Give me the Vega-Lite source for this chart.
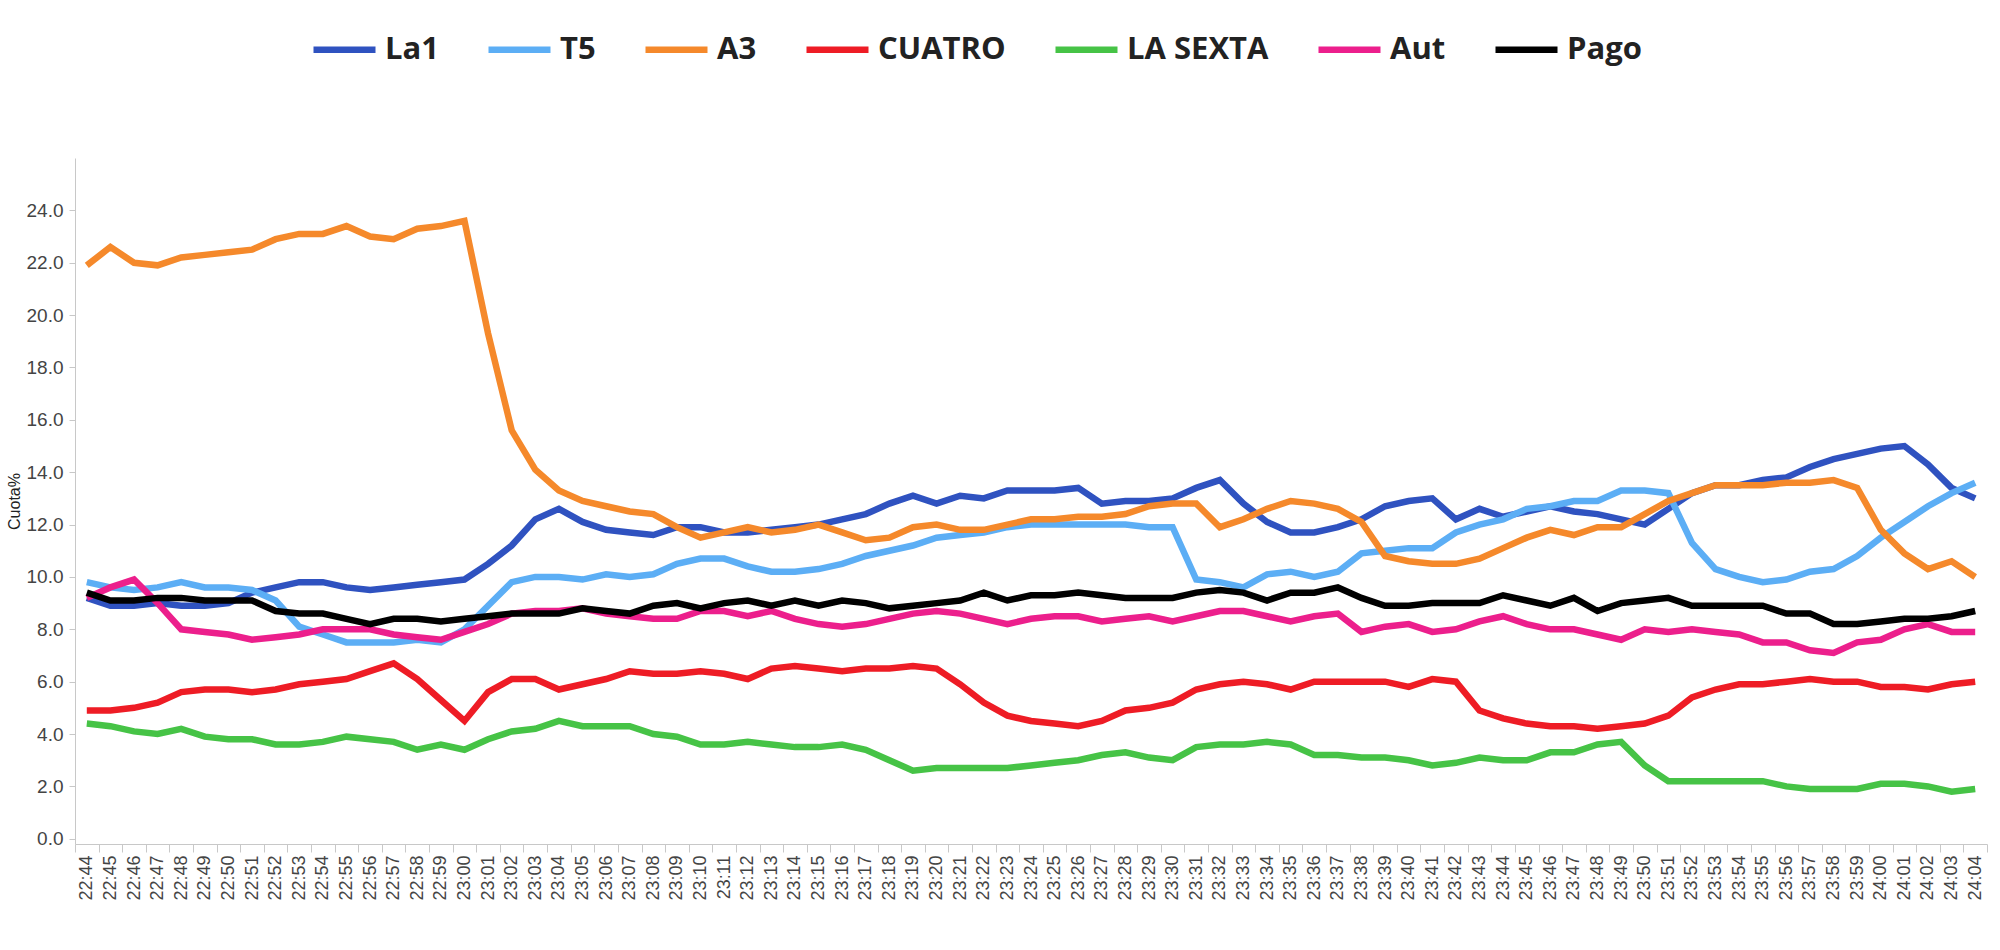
{
"$schema": "https://vega.github.io/schema/vega-lite/v6.json",
"width": 1912,
"height": 686,
"autosize": {"type": "none"},
"padding": {"left": 75, "top": 158, "right": 13, "bottom": 106},
"background": "white",
"config": {"view": {"stroke": null}, "font": "Liberation Sans"},
"data": {"values": [
{"t":"22:44","s":"La1","v":9.2},{"t":"22:45","s":"La1","v":8.9},{"t":"22:46","s":"La1","v":8.9},{"t":"22:47","s":"La1","v":9.0},{"t":"22:48","s":"La1","v":8.9},{"t":"22:49","s":"La1","v":8.9},{"t":"22:50","s":"La1","v":9.0},{"t":"22:51","s":"La1","v":9.4},{"t":"22:52","s":"La1","v":9.6},{"t":"22:53","s":"La1","v":9.8},{"t":"22:54","s":"La1","v":9.8},{"t":"22:55","s":"La1","v":9.6},{"t":"22:56","s":"La1","v":9.5},{"t":"22:57","s":"La1","v":9.6},{"t":"22:58","s":"La1","v":9.7},{"t":"22:59","s":"La1","v":9.8},
{"t":"23:00","s":"La1","v":9.9},{"t":"23:01","s":"La1","v":10.5},{"t":"23:02","s":"La1","v":11.2},{"t":"23:03","s":"La1","v":12.2},{"t":"23:04","s":"La1","v":12.6},{"t":"23:05","s":"La1","v":12.1},{"t":"23:06","s":"La1","v":11.8},{"t":"23:07","s":"La1","v":11.7},{"t":"23:08","s":"La1","v":11.6},{"t":"23:09","s":"La1","v":11.9},{"t":"23:10","s":"La1","v":11.9},
{"t":"23:11","s":"La1","v":11.7},{"t":"23:12","s":"La1","v":11.7},{"t":"23:13","s":"La1","v":11.8},{"t":"23:14","s":"La1","v":11.9},{"t":"23:15","s":"La1","v":12.0},{"t":"23:16","s":"La1","v":12.2},{"t":"23:17","s":"La1","v":12.4},{"t":"23:18","s":"La1","v":12.8},{"t":"23:19","s":"La1","v":13.1},{"t":"23:20","s":"La1","v":12.8},{"t":"23:21","s":"La1","v":13.1},{"t":"23:22","s":"La1","v":13.0},{"t":"23:23","s":"La1","v":13.3},{"t":"23:24","s":"La1","v":13.3},
{"t":"23:25","s":"La1","v":13.3},{"t":"23:26","s":"La1","v":13.4},{"t":"23:27","s":"La1","v":12.8},{"t":"23:28","s":"La1","v":12.9},{"t":"23:29","s":"La1","v":12.9},{"t":"23:30","s":"La1","v":13.0},{"t":"23:31","s":"La1","v":13.4},{"t":"23:32","s":"La1","v":13.7},{"t":"23:33","s":"La1","v":12.8},{"t":"23:34","s":"La1","v":12.1},{"t":"23:35","s":"La1","v":11.7},{"t":"23:36","s":"La1","v":11.7},{"t":"23:37","s":"La1","v":11.9},{"t":"23:38","s":"La1","v":12.2},
{"t":"23:39","s":"La1","v":12.7},{"t":"23:40","s":"La1","v":12.9},{"t":"23:41","s":"La1","v":13.0},{"t":"23:42","s":"La1","v":12.2},{"t":"23:43","s":"La1","v":12.6},{"t":"23:44","s":"La1","v":12.3},{"t":"23:45","s":"La1","v":12.5},{"t":"23:46","s":"La1","v":12.7},{"t":"23:47","s":"La1","v":12.5},{"t":"23:48","s":"La1","v":12.4},{"t":"23:49","s":"La1","v":12.2},{"t":"23:50","s":"La1","v":12.0},{"t":"23:51","s":"La1","v":12.6},
{"t":"23:52","s":"La1","v":13.2},{"t":"23:53","s":"La1","v":13.5},{"t":"23:54","s":"La1","v":13.5},{"t":"23:55","s":"La1","v":13.7},{"t":"23:56","s":"La1","v":13.8},{"t":"23:57","s":"La1","v":14.2},{"t":"23:58","s":"La1","v":14.5},{"t":"23:59","s":"La1","v":14.7},{"t":"24:00","s":"La1","v":14.9},{"t":"24:01","s":"La1","v":15.0},{"t":"24:02","s":"La1","v":14.3},{"t":"24:03","s":"La1","v":13.4},{"t":"24:04","s":"La1","v":13.0},

{"t":"22:44","s":"T5","v":9.8},{"t":"22:45","s":"T5","v":9.6},{"t":"22:46","s":"T5","v":9.5},{"t":"22:47","s":"T5","v":9.6},{"t":"22:48","s":"T5","v":9.8},{"t":"22:49","s":"T5","v":9.6},{"t":"22:50","s":"T5","v":9.6},{"t":"22:51","s":"T5","v":9.5},{"t":"22:52","s":"T5","v":9.1},{"t":"22:53","s":"T5","v":8.1},{"t":"22:54","s":"T5","v":7.8},{"t":"22:55","s":"T5","v":7.5},{"t":"22:56","s":"T5","v":7.5},{"t":"22:57","s":"T5","v":7.5},{"t":"22:58","s":"T5","v":7.6},{"t":"22:59","s":"T5","v":7.5},
{"t":"23:00","s":"T5","v":8.0},{"t":"23:01","s":"T5","v":8.9},{"t":"23:02","s":"T5","v":9.8},{"t":"23:03","s":"T5","v":10.0},{"t":"23:04","s":"T5","v":10.0},{"t":"23:05","s":"T5","v":9.9},{"t":"23:06","s":"T5","v":10.1},{"t":"23:07","s":"T5","v":10.0},{"t":"23:08","s":"T5","v":10.1},{"t":"23:09","s":"T5","v":10.5},{"t":"23:10","s":"T5","v":10.7},
{"t":"23:11","s":"T5","v":10.7},{"t":"23:12","s":"T5","v":10.4},{"t":"23:13","s":"T5","v":10.2},{"t":"23:14","s":"T5","v":10.2},{"t":"23:15","s":"T5","v":10.3},{"t":"23:16","s":"T5","v":10.5},{"t":"23:17","s":"T5","v":10.8},{"t":"23:18","s":"T5","v":11.0},{"t":"23:19","s":"T5","v":11.2},{"t":"23:20","s":"T5","v":11.5},{"t":"23:21","s":"T5","v":11.6},{"t":"23:22","s":"T5","v":11.7},{"t":"23:23","s":"T5","v":11.9},{"t":"23:24","s":"T5","v":12.0},
{"t":"23:25","s":"T5","v":12.0},{"t":"23:26","s":"T5","v":12.0},{"t":"23:27","s":"T5","v":12.0},{"t":"23:28","s":"T5","v":12.0},{"t":"23:29","s":"T5","v":11.9},{"t":"23:30","s":"T5","v":11.9},{"t":"23:31","s":"T5","v":9.9},{"t":"23:32","s":"T5","v":9.8},{"t":"23:33","s":"T5","v":9.6},{"t":"23:34","s":"T5","v":10.1},{"t":"23:35","s":"T5","v":10.2},{"t":"23:36","s":"T5","v":10.0},{"t":"23:37","s":"T5","v":10.2},{"t":"23:38","s":"T5","v":10.9},
{"t":"23:39","s":"T5","v":11.0},{"t":"23:40","s":"T5","v":11.1},{"t":"23:41","s":"T5","v":11.1},{"t":"23:42","s":"T5","v":11.7},{"t":"23:43","s":"T5","v":12.0},{"t":"23:44","s":"T5","v":12.2},{"t":"23:45","s":"T5","v":12.6},{"t":"23:46","s":"T5","v":12.7},{"t":"23:47","s":"T5","v":12.9},{"t":"23:48","s":"T5","v":12.9},{"t":"23:49","s":"T5","v":13.3},{"t":"23:50","s":"T5","v":13.3},{"t":"23:51","s":"T5","v":13.2},
{"t":"23:52","s":"T5","v":11.3},{"t":"23:53","s":"T5","v":10.3},{"t":"23:54","s":"T5","v":10.0},{"t":"23:55","s":"T5","v":9.8},{"t":"23:56","s":"T5","v":9.9},{"t":"23:57","s":"T5","v":10.2},{"t":"23:58","s":"T5","v":10.3},{"t":"23:59","s":"T5","v":10.8},{"t":"24:00","s":"T5","v":11.5},{"t":"24:01","s":"T5","v":12.1},{"t":"24:02","s":"T5","v":12.7},{"t":"24:03","s":"T5","v":13.2},{"t":"24:04","s":"T5","v":13.6},

{"t":"22:44","s":"A3","v":21.9},{"t":"22:45","s":"A3","v":22.6},{"t":"22:46","s":"A3","v":22.0},{"t":"22:47","s":"A3","v":21.9},{"t":"22:48","s":"A3","v":22.2},{"t":"22:49","s":"A3","v":22.3},{"t":"22:50","s":"A3","v":22.4},{"t":"22:51","s":"A3","v":22.5},{"t":"22:52","s":"A3","v":22.9},{"t":"22:53","s":"A3","v":23.1},{"t":"22:54","s":"A3","v":23.1},{"t":"22:55","s":"A3","v":23.4},{"t":"22:56","s":"A3","v":23.0},{"t":"22:57","s":"A3","v":22.9},{"t":"22:58","s":"A3","v":23.3},{"t":"22:59","s":"A3","v":23.4},
{"t":"23:00","s":"A3","v":23.6},{"t":"23:01","s":"A3","v":19.3},{"t":"23:02","s":"A3","v":15.6},{"t":"23:03","s":"A3","v":14.1},{"t":"23:04","s":"A3","v":13.3},{"t":"23:05","s":"A3","v":12.9},{"t":"23:06","s":"A3","v":12.7},{"t":"23:07","s":"A3","v":12.5},{"t":"23:08","s":"A3","v":12.4},{"t":"23:09","s":"A3","v":11.9},{"t":"23:10","s":"A3","v":11.5},
{"t":"23:11","s":"A3","v":11.7},{"t":"23:12","s":"A3","v":11.9},{"t":"23:13","s":"A3","v":11.7},{"t":"23:14","s":"A3","v":11.8},{"t":"23:15","s":"A3","v":12.0},{"t":"23:16","s":"A3","v":11.7},{"t":"23:17","s":"A3","v":11.4},{"t":"23:18","s":"A3","v":11.5},{"t":"23:19","s":"A3","v":11.9},{"t":"23:20","s":"A3","v":12.0},{"t":"23:21","s":"A3","v":11.8},{"t":"23:22","s":"A3","v":11.8},{"t":"23:23","s":"A3","v":12.0},{"t":"23:24","s":"A3","v":12.2},
{"t":"23:25","s":"A3","v":12.2},{"t":"23:26","s":"A3","v":12.3},{"t":"23:27","s":"A3","v":12.3},{"t":"23:28","s":"A3","v":12.4},{"t":"23:29","s":"A3","v":12.7},{"t":"23:30","s":"A3","v":12.8},{"t":"23:31","s":"A3","v":12.8},{"t":"23:32","s":"A3","v":11.9},{"t":"23:33","s":"A3","v":12.2},{"t":"23:34","s":"A3","v":12.6},{"t":"23:35","s":"A3","v":12.9},{"t":"23:36","s":"A3","v":12.8},{"t":"23:37","s":"A3","v":12.6},{"t":"23:38","s":"A3","v":12.1},
{"t":"23:39","s":"A3","v":10.8},{"t":"23:40","s":"A3","v":10.6},{"t":"23:41","s":"A3","v":10.5},{"t":"23:42","s":"A3","v":10.5},{"t":"23:43","s":"A3","v":10.7},{"t":"23:44","s":"A3","v":11.1},{"t":"23:45","s":"A3","v":11.5},{"t":"23:46","s":"A3","v":11.8},{"t":"23:47","s":"A3","v":11.6},{"t":"23:48","s":"A3","v":11.9},{"t":"23:49","s":"A3","v":11.9},{"t":"23:50","s":"A3","v":12.4},{"t":"23:51","s":"A3","v":12.9},
{"t":"23:52","s":"A3","v":13.2},{"t":"23:53","s":"A3","v":13.5},{"t":"23:54","s":"A3","v":13.5},{"t":"23:55","s":"A3","v":13.5},{"t":"23:56","s":"A3","v":13.6},{"t":"23:57","s":"A3","v":13.6},{"t":"23:58","s":"A3","v":13.7},{"t":"23:59","s":"A3","v":13.4},{"t":"24:00","s":"A3","v":11.8},{"t":"24:01","s":"A3","v":10.9},{"t":"24:02","s":"A3","v":10.3},{"t":"24:03","s":"A3","v":10.6},{"t":"24:04","s":"A3","v":10.0},

{"t":"22:44","s":"CUATRO","v":4.9},{"t":"22:45","s":"CUATRO","v":4.9},{"t":"22:46","s":"CUATRO","v":5.0},{"t":"22:47","s":"CUATRO","v":5.2},{"t":"22:48","s":"CUATRO","v":5.6},{"t":"22:49","s":"CUATRO","v":5.7},{"t":"22:50","s":"CUATRO","v":5.7},{"t":"22:51","s":"CUATRO","v":5.6},{"t":"22:52","s":"CUATRO","v":5.7},{"t":"22:53","s":"CUATRO","v":5.9},{"t":"22:54","s":"CUATRO","v":6.0},{"t":"22:55","s":"CUATRO","v":6.1},{"t":"22:56","s":"CUATRO","v":6.4},{"t":"22:57","s":"CUATRO","v":6.7},{"t":"22:58","s":"CUATRO","v":6.1},{"t":"22:59","s":"CUATRO","v":5.3},
{"t":"23:00","s":"CUATRO","v":4.5},{"t":"23:01","s":"CUATRO","v":5.6},{"t":"23:02","s":"CUATRO","v":6.1},{"t":"23:03","s":"CUATRO","v":6.1},{"t":"23:04","s":"CUATRO","v":5.7},{"t":"23:05","s":"CUATRO","v":5.9},{"t":"23:06","s":"CUATRO","v":6.1},{"t":"23:07","s":"CUATRO","v":6.4},{"t":"23:08","s":"CUATRO","v":6.3},{"t":"23:09","s":"CUATRO","v":6.3},{"t":"23:10","s":"CUATRO","v":6.4},
{"t":"23:11","s":"CUATRO","v":6.3},{"t":"23:12","s":"CUATRO","v":6.1},{"t":"23:13","s":"CUATRO","v":6.5},{"t":"23:14","s":"CUATRO","v":6.6},{"t":"23:15","s":"CUATRO","v":6.5},{"t":"23:16","s":"CUATRO","v":6.4},{"t":"23:17","s":"CUATRO","v":6.5},{"t":"23:18","s":"CUATRO","v":6.5},{"t":"23:19","s":"CUATRO","v":6.6},{"t":"23:20","s":"CUATRO","v":6.5},{"t":"23:21","s":"CUATRO","v":5.9},{"t":"23:22","s":"CUATRO","v":5.2},{"t":"23:23","s":"CUATRO","v":4.7},{"t":"23:24","s":"CUATRO","v":4.5},
{"t":"23:25","s":"CUATRO","v":4.4},{"t":"23:26","s":"CUATRO","v":4.3},{"t":"23:27","s":"CUATRO","v":4.5},{"t":"23:28","s":"CUATRO","v":4.9},{"t":"23:29","s":"CUATRO","v":5.0},{"t":"23:30","s":"CUATRO","v":5.2},{"t":"23:31","s":"CUATRO","v":5.7},{"t":"23:32","s":"CUATRO","v":5.9},{"t":"23:33","s":"CUATRO","v":6.0},{"t":"23:34","s":"CUATRO","v":5.9},{"t":"23:35","s":"CUATRO","v":5.7},{"t":"23:36","s":"CUATRO","v":6.0},{"t":"23:37","s":"CUATRO","v":6.0},{"t":"23:38","s":"CUATRO","v":6.0},
{"t":"23:39","s":"CUATRO","v":6.0},{"t":"23:40","s":"CUATRO","v":5.8},{"t":"23:41","s":"CUATRO","v":6.1},{"t":"23:42","s":"CUATRO","v":6.0},{"t":"23:43","s":"CUATRO","v":4.9},{"t":"23:44","s":"CUATRO","v":4.6},{"t":"23:45","s":"CUATRO","v":4.4},{"t":"23:46","s":"CUATRO","v":4.3},{"t":"23:47","s":"CUATRO","v":4.3},{"t":"23:48","s":"CUATRO","v":4.2},{"t":"23:49","s":"CUATRO","v":4.3},{"t":"23:50","s":"CUATRO","v":4.4},{"t":"23:51","s":"CUATRO","v":4.7},
{"t":"23:52","s":"CUATRO","v":5.4},{"t":"23:53","s":"CUATRO","v":5.7},{"t":"23:54","s":"CUATRO","v":5.9},{"t":"23:55","s":"CUATRO","v":5.9},{"t":"23:56","s":"CUATRO","v":6.0},{"t":"23:57","s":"CUATRO","v":6.1},{"t":"23:58","s":"CUATRO","v":6.0},{"t":"23:59","s":"CUATRO","v":6.0},{"t":"24:00","s":"CUATRO","v":5.8},{"t":"24:01","s":"CUATRO","v":5.8},{"t":"24:02","s":"CUATRO","v":5.7},{"t":"24:03","s":"CUATRO","v":5.9},{"t":"24:04","s":"CUATRO","v":6.0},

{"t":"22:44","s":"LA SEXTA","v":4.4},{"t":"22:45","s":"LA SEXTA","v":4.3},{"t":"22:46","s":"LA SEXTA","v":4.1},{"t":"22:47","s":"LA SEXTA","v":4.0},{"t":"22:48","s":"LA SEXTA","v":4.2},{"t":"22:49","s":"LA SEXTA","v":3.9},{"t":"22:50","s":"LA SEXTA","v":3.8},{"t":"22:51","s":"LA SEXTA","v":3.8},{"t":"22:52","s":"LA SEXTA","v":3.6},{"t":"22:53","s":"LA SEXTA","v":3.6},{"t":"22:54","s":"LA SEXTA","v":3.7},{"t":"22:55","s":"LA SEXTA","v":3.9},{"t":"22:56","s":"LA SEXTA","v":3.8},{"t":"22:57","s":"LA SEXTA","v":3.7},{"t":"22:58","s":"LA SEXTA","v":3.4},{"t":"22:59","s":"LA SEXTA","v":3.6},
{"t":"23:00","s":"LA SEXTA","v":3.4},{"t":"23:01","s":"LA SEXTA","v":3.8},{"t":"23:02","s":"LA SEXTA","v":4.1},{"t":"23:03","s":"LA SEXTA","v":4.2},{"t":"23:04","s":"LA SEXTA","v":4.5},{"t":"23:05","s":"LA SEXTA","v":4.3},{"t":"23:06","s":"LA SEXTA","v":4.3},{"t":"23:07","s":"LA SEXTA","v":4.3},{"t":"23:08","s":"LA SEXTA","v":4.0},{"t":"23:09","s":"LA SEXTA","v":3.9},{"t":"23:10","s":"LA SEXTA","v":3.6},
{"t":"23:11","s":"LA SEXTA","v":3.6},{"t":"23:12","s":"LA SEXTA","v":3.7},{"t":"23:13","s":"LA SEXTA","v":3.6},{"t":"23:14","s":"LA SEXTA","v":3.5},{"t":"23:15","s":"LA SEXTA","v":3.5},{"t":"23:16","s":"LA SEXTA","v":3.6},{"t":"23:17","s":"LA SEXTA","v":3.4},{"t":"23:18","s":"LA SEXTA","v":3.0},{"t":"23:19","s":"LA SEXTA","v":2.6},{"t":"23:20","s":"LA SEXTA","v":2.7},{"t":"23:21","s":"LA SEXTA","v":2.7},{"t":"23:22","s":"LA SEXTA","v":2.7},{"t":"23:23","s":"LA SEXTA","v":2.7},{"t":"23:24","s":"LA SEXTA","v":2.8},
{"t":"23:25","s":"LA SEXTA","v":2.9},{"t":"23:26","s":"LA SEXTA","v":3.0},{"t":"23:27","s":"LA SEXTA","v":3.2},{"t":"23:28","s":"LA SEXTA","v":3.3},{"t":"23:29","s":"LA SEXTA","v":3.1},{"t":"23:30","s":"LA SEXTA","v":3.0},{"t":"23:31","s":"LA SEXTA","v":3.5},{"t":"23:32","s":"LA SEXTA","v":3.6},{"t":"23:33","s":"LA SEXTA","v":3.6},{"t":"23:34","s":"LA SEXTA","v":3.7},{"t":"23:35","s":"LA SEXTA","v":3.6},{"t":"23:36","s":"LA SEXTA","v":3.2},{"t":"23:37","s":"LA SEXTA","v":3.2},{"t":"23:38","s":"LA SEXTA","v":3.1},
{"t":"23:39","s":"LA SEXTA","v":3.1},{"t":"23:40","s":"LA SEXTA","v":3.0},{"t":"23:41","s":"LA SEXTA","v":2.8},{"t":"23:42","s":"LA SEXTA","v":2.9},{"t":"23:43","s":"LA SEXTA","v":3.1},{"t":"23:44","s":"LA SEXTA","v":3.0},{"t":"23:45","s":"LA SEXTA","v":3.0},{"t":"23:46","s":"LA SEXTA","v":3.3},{"t":"23:47","s":"LA SEXTA","v":3.3},{"t":"23:48","s":"LA SEXTA","v":3.6},{"t":"23:49","s":"LA SEXTA","v":3.7},{"t":"23:50","s":"LA SEXTA","v":2.8},{"t":"23:51","s":"LA SEXTA","v":2.2},
{"t":"23:52","s":"LA SEXTA","v":2.2},{"t":"23:53","s":"LA SEXTA","v":2.2},{"t":"23:54","s":"LA SEXTA","v":2.2},{"t":"23:55","s":"LA SEXTA","v":2.2},{"t":"23:56","s":"LA SEXTA","v":2.0},{"t":"23:57","s":"LA SEXTA","v":1.9},{"t":"23:58","s":"LA SEXTA","v":1.9},{"t":"23:59","s":"LA SEXTA","v":1.9},{"t":"24:00","s":"LA SEXTA","v":2.1},{"t":"24:01","s":"LA SEXTA","v":2.1},{"t":"24:02","s":"LA SEXTA","v":2.0},{"t":"24:03","s":"LA SEXTA","v":1.8},{"t":"24:04","s":"LA SEXTA","v":1.9},

{"t":"22:44","s":"Aut","v":9.2},{"t":"22:45","s":"Aut","v":9.6},{"t":"22:46","s":"Aut","v":9.9},{"t":"22:47","s":"Aut","v":9.0},{"t":"22:48","s":"Aut","v":8.0},{"t":"22:49","s":"Aut","v":7.9},{"t":"22:50","s":"Aut","v":7.8},{"t":"22:51","s":"Aut","v":7.6},{"t":"22:52","s":"Aut","v":7.7},{"t":"22:53","s":"Aut","v":7.8},{"t":"22:54","s":"Aut","v":8.0},{"t":"22:55","s":"Aut","v":8.0},{"t":"22:56","s":"Aut","v":8.0},{"t":"22:57","s":"Aut","v":7.8},{"t":"22:58","s":"Aut","v":7.7},{"t":"22:59","s":"Aut","v":7.6},
{"t":"23:00","s":"Aut","v":7.9},{"t":"23:01","s":"Aut","v":8.2},{"t":"23:02","s":"Aut","v":8.6},{"t":"23:03","s":"Aut","v":8.7},{"t":"23:04","s":"Aut","v":8.7},{"t":"23:05","s":"Aut","v":8.8},{"t":"23:06","s":"Aut","v":8.6},{"t":"23:07","s":"Aut","v":8.5},{"t":"23:08","s":"Aut","v":8.4},{"t":"23:09","s":"Aut","v":8.4},{"t":"23:10","s":"Aut","v":8.7},
{"t":"23:11","s":"Aut","v":8.7},{"t":"23:12","s":"Aut","v":8.5},{"t":"23:13","s":"Aut","v":8.7},{"t":"23:14","s":"Aut","v":8.4},{"t":"23:15","s":"Aut","v":8.2},{"t":"23:16","s":"Aut","v":8.1},{"t":"23:17","s":"Aut","v":8.2},{"t":"23:18","s":"Aut","v":8.4},{"t":"23:19","s":"Aut","v":8.6},{"t":"23:20","s":"Aut","v":8.7},{"t":"23:21","s":"Aut","v":8.6},{"t":"23:22","s":"Aut","v":8.4},{"t":"23:23","s":"Aut","v":8.2},{"t":"23:24","s":"Aut","v":8.4},
{"t":"23:25","s":"Aut","v":8.5},{"t":"23:26","s":"Aut","v":8.5},{"t":"23:27","s":"Aut","v":8.3},{"t":"23:28","s":"Aut","v":8.4},{"t":"23:29","s":"Aut","v":8.5},{"t":"23:30","s":"Aut","v":8.3},{"t":"23:31","s":"Aut","v":8.5},{"t":"23:32","s":"Aut","v":8.7},{"t":"23:33","s":"Aut","v":8.7},{"t":"23:34","s":"Aut","v":8.5},{"t":"23:35","s":"Aut","v":8.3},{"t":"23:36","s":"Aut","v":8.5},{"t":"23:37","s":"Aut","v":8.6},{"t":"23:38","s":"Aut","v":7.9},
{"t":"23:39","s":"Aut","v":8.1},{"t":"23:40","s":"Aut","v":8.2},{"t":"23:41","s":"Aut","v":7.9},{"t":"23:42","s":"Aut","v":8.0},{"t":"23:43","s":"Aut","v":8.3},{"t":"23:44","s":"Aut","v":8.5},{"t":"23:45","s":"Aut","v":8.2},{"t":"23:46","s":"Aut","v":8.0},{"t":"23:47","s":"Aut","v":8.0},{"t":"23:48","s":"Aut","v":7.8},{"t":"23:49","s":"Aut","v":7.6},{"t":"23:50","s":"Aut","v":8.0},{"t":"23:51","s":"Aut","v":7.9},
{"t":"23:52","s":"Aut","v":8.0},{"t":"23:53","s":"Aut","v":7.9},{"t":"23:54","s":"Aut","v":7.8},{"t":"23:55","s":"Aut","v":7.5},{"t":"23:56","s":"Aut","v":7.5},{"t":"23:57","s":"Aut","v":7.2},{"t":"23:58","s":"Aut","v":7.1},{"t":"23:59","s":"Aut","v":7.5},{"t":"24:00","s":"Aut","v":7.6},{"t":"24:01","s":"Aut","v":8.0},{"t":"24:02","s":"Aut","v":8.2},{"t":"24:03","s":"Aut","v":7.9},{"t":"24:04","s":"Aut","v":7.9},

{"t":"22:44","s":"Pago","v":9.4},{"t":"22:45","s":"Pago","v":9.1},{"t":"22:46","s":"Pago","v":9.1},{"t":"22:47","s":"Pago","v":9.2},{"t":"22:48","s":"Pago","v":9.2},{"t":"22:49","s":"Pago","v":9.1},{"t":"22:50","s":"Pago","v":9.1},{"t":"22:51","s":"Pago","v":9.1},{"t":"22:52","s":"Pago","v":8.7},{"t":"22:53","s":"Pago","v":8.6},{"t":"22:54","s":"Pago","v":8.6},{"t":"22:55","s":"Pago","v":8.4},{"t":"22:56","s":"Pago","v":8.2},{"t":"22:57","s":"Pago","v":8.4},{"t":"22:58","s":"Pago","v":8.4},{"t":"22:59","s":"Pago","v":8.3},
{"t":"23:00","s":"Pago","v":8.4},{"t":"23:01","s":"Pago","v":8.5},{"t":"23:02","s":"Pago","v":8.6},{"t":"23:03","s":"Pago","v":8.6},{"t":"23:04","s":"Pago","v":8.6},{"t":"23:05","s":"Pago","v":8.8},{"t":"23:06","s":"Pago","v":8.7},{"t":"23:07","s":"Pago","v":8.6},{"t":"23:08","s":"Pago","v":8.9},{"t":"23:09","s":"Pago","v":9.0},{"t":"23:10","s":"Pago","v":8.8},
{"t":"23:11","s":"Pago","v":9.0},{"t":"23:12","s":"Pago","v":9.1},{"t":"23:13","s":"Pago","v":8.9},{"t":"23:14","s":"Pago","v":9.1},{"t":"23:15","s":"Pago","v":8.9},{"t":"23:16","s":"Pago","v":9.1},{"t":"23:17","s":"Pago","v":9.0},{"t":"23:18","s":"Pago","v":8.8},{"t":"23:19","s":"Pago","v":8.9},{"t":"23:20","s":"Pago","v":9.0},{"t":"23:21","s":"Pago","v":9.1},{"t":"23:22","s":"Pago","v":9.4},{"t":"23:23","s":"Pago","v":9.1},{"t":"23:24","s":"Pago","v":9.3},
{"t":"23:25","s":"Pago","v":9.3},{"t":"23:26","s":"Pago","v":9.4},{"t":"23:27","s":"Pago","v":9.3},{"t":"23:28","s":"Pago","v":9.2},{"t":"23:29","s":"Pago","v":9.2},{"t":"23:30","s":"Pago","v":9.2},{"t":"23:31","s":"Pago","v":9.4},{"t":"23:32","s":"Pago","v":9.5},{"t":"23:33","s":"Pago","v":9.4},{"t":"23:34","s":"Pago","v":9.1},{"t":"23:35","s":"Pago","v":9.4},{"t":"23:36","s":"Pago","v":9.4},{"t":"23:37","s":"Pago","v":9.6},{"t":"23:38","s":"Pago","v":9.2},
{"t":"23:39","s":"Pago","v":8.9},{"t":"23:40","s":"Pago","v":8.9},{"t":"23:41","s":"Pago","v":9.0},{"t":"23:42","s":"Pago","v":9.0},{"t":"23:43","s":"Pago","v":9.0},{"t":"23:44","s":"Pago","v":9.3},{"t":"23:45","s":"Pago","v":9.1},{"t":"23:46","s":"Pago","v":8.9},{"t":"23:47","s":"Pago","v":9.2},{"t":"23:48","s":"Pago","v":8.7},{"t":"23:49","s":"Pago","v":9.0},{"t":"23:50","s":"Pago","v":9.1},{"t":"23:51","s":"Pago","v":9.2},
{"t":"23:52","s":"Pago","v":8.9},{"t":"23:53","s":"Pago","v":8.9},{"t":"23:54","s":"Pago","v":8.9},{"t":"23:55","s":"Pago","v":8.9},{"t":"23:56","s":"Pago","v":8.6},{"t":"23:57","s":"Pago","v":8.6},{"t":"23:58","s":"Pago","v":8.2},{"t":"23:59","s":"Pago","v":8.2},{"t":"24:00","s":"Pago","v":8.3},{"t":"24:01","s":"Pago","v":8.4},{"t":"24:02","s":"Pago","v":8.4},{"t":"24:03","s":"Pago","v":8.5},{"t":"24:04","s":"Pago","v":8.7}
]},
"mark": {"type": "line", "strokeWidth": 6.5},
"encoding": {
  "x": {"field": "t", "type": "ordinal", "bandPosition": 0.5,
    "scale": {"type": "band", "paddingInner": 0, "paddingOuter": 0},
    "axis": {"title": null, "labelAngle": -90, "tickBand": "extent", "labelFontSize": 18, "labelColor": "#444444", "domainColor": "#c8c8c8", "tickColor": "#c8c8c8", "tickSize": 8, "labelPadding": 3, "grid": false}},
  "y": {"field": "v", "type": "quantitative",
    "scale": {"domain": [-0.2, 26], "nice": false, "zero": false},
    "axis": {"title": "Cuota%", "values": [0,2,4,6,8,10,12,14,16,18,20,22,24], "format": ".1f", "grid": false, "labelFontSize": 19, "labelColor": "#444444", "domainColor": "#c8c8c8", "tickColor": "#c8c8c8", "tickSize": 6, "labelPadding": 6, "titleFontSize": 16, "titleFontWeight": "normal", "titleColor": "#222222", "titlePadding": 4}},
  "color": {"field": "s", "type": "nominal",
    "scale": {"domain": ["La1","T5","A3","CUATRO","LA SEXTA","Aut","Pago"], "range": ["#2F52C0","#5CAEF5","#F5892B","#EE1C25","#46C346","#EC1F8C","#000000"]},
    "legend": {"title": null, "orient": "none", "direction": "horizontal", "legendX": 235, "legendY": -143, "symbolType": "stroke", "symbolSize": 3844, "symbolStrokeWidth": 6.5, "labelFontSize": 31, "labelFont": "Open Sans", "labelFontWeight": "bold", "labelColor": "#222222", "columnPadding": 36, "labelOffset": 6}}
}
}
